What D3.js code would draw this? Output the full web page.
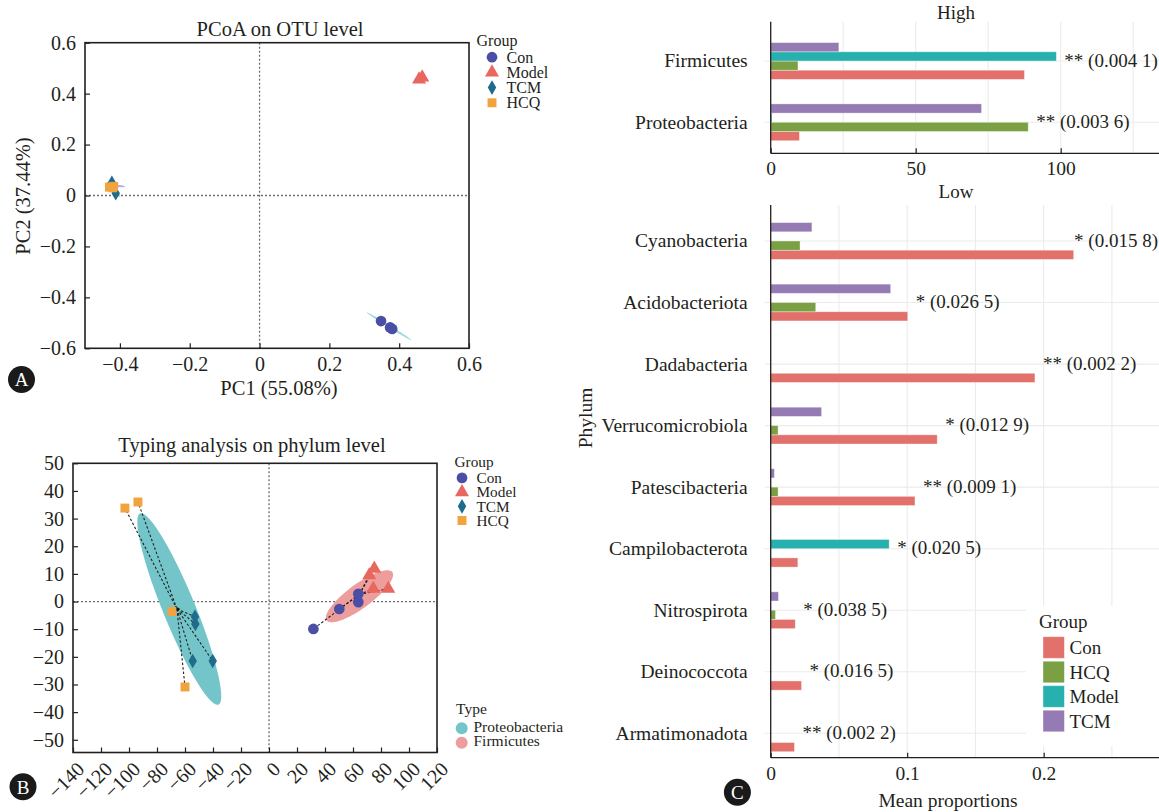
<!DOCTYPE html>
<html>
<head>
<meta charset="utf-8">
<script src="https://cdn.jsdelivr.net/npm/d3@7"></script>
<style>
  body { margin: 0; background: #fff; }
  svg { display: block; font-family: "Liberation Serif", "DejaVu Serif", serif; }
</style>
</head>
<body>
<svg id="chart" width="1159" height="812"></svg>
<script>

var groups = ["Con", "Model", "TCM", "HCQ"];

// A - PCoA on OTU level
var pcoaCon = [[0.348, -0.493], [0.374, -0.518], [0.380, -0.524]];
var pcoaModel = [[0.457, 0.456], [0.466, 0.464]];
var pcoaTCM = [[-0.423, 0.050], [-0.412, 0.009]];
var pcoaHCQ = [[-0.430, 0.033], [-0.418, 0.036], [-0.421, 0.030]];
var pcoaEllipses = [
  {center: [0.371, -0.5135], major: [0.064, -0.0545], minor: [-0.0018, -0.004]},
  {center: [-0.413, 0.038], major: [0.028, -0.003], minor: [0, 0.005]},
  {center: [-0.4175, 0.0245], major: [0.0185, -0.0295], minor: [0.0032, 0.0019]}
];
var pcoaXTicks = [-0.4, -0.2, 0, 0.2, 0.4, 0.6];
var pcoaYTicks = [-0.6, -0.4, -0.2, 0, 0.2, 0.4, 0.6];

// B - typing analysis on phylum level
var typCon = [[31.7, -9.9], [50.2, -2.7], [63.8, 2.8], [63.8, -0.2]];
var typModel = [[75.2, 11.9], [71.6, 9.5], [74.5, 4.6], [85.2, 4.6]];
var typTCM = [[-52.9, -5.5], [-52.6, -8.1], [-54.5, -21.5], [-40.2, -21.5]];
var typHCQ = [[-102.9, 33.8], [-93.6, 36], [-69.3, -3.6], [-60, -30.9]];
var typeNames = ["Proteobacteria", "Firmicutes"];
var typeMembers = [["TCM", "HCQ"], ["Con", "Model"]];
var typeEllipses = [
  {center: [-64.1, -2.7], major: [-28, 34.6], minor: [10.7, 2.25]},
  {center: [64.6, 1.9], major: [23.5, 8.75], minor: [5.1, -3.5]}
];
var typXTicks = [-140, -120, -100, -80, -60, -40, -20, 0, 20, 40, 60, 80, 100, 120];
var typYTicks = [-50, -40, -30, -20, -10, 0, 10, 20, 30, 40, 50];

// C - mean proportions
var highPhyla = ["Firmicutes", "Proteobacteria"];
var highCon = [87.5, 9.9];
var highHCQ = [9.4, 88.8];
var highModel = [98.5, 0.4];
var highTCM = [23.5, 72.7];
var highLabels = ["** (0.004 1)", "** (0.003 6)"];
var highTicks = [0, 50, 100];
var highGrid = [25, 50, 75, 100, 125];

var lowPhyla = ["Cyanobacteria", "Acidobacteriota", "Dadabacteria", "Verrucomicrobiola",
  "Patescibacteria", "Campilobacterota", "Nitrospirota", "Deinococcota", "Armatimonadota"];
var lowCon = [0.222, 0.1004, 0.1936, 0.122, 0.1057, 0.0199, 0.018, 0.0226, 0.0174];
var lowHCQ = [0.0215, 0.033, 0, 0.0054, 0.0054, 0, 0.0035, 0, 0];
var lowModel = [0, 0, 0, 0, 0, 0.0868, 0, 0, 0];
var lowTCM = [0.0302, 0.0879, 0, 0.0373, 0.0027, 0, 0.0057, 0, 0];
var lowLabels = ["* (0.015 8)", "* (0.026 5)", "** (0.002 2)", "* (0.012 9)",
  "** (0.009 1)", "* (0.020 5)", "* (0.038 5)", "* (0.016 5)", "** (0.002 2)"];
var lowTicks = [0, 0.1, 0.2];
var lowGrid = [0.05, 0.1, 0.15, 0.2, 0.25];

var barGroups = ["Con", "HCQ", "Model", "TCM"];


var svg = d3.select("#chart");
var ink = "#231f20";

var symbolType = {Con: d3.symbolCircle, Model: d3.symbolTriangle, TCM: d3.symbolDiamond, HCQ: d3.symbolSquare};
var symbolSize = {Con: 90, Model: 85, TCM: 62, HCQ: 80};
var pointColor = d3.scaleOrdinal().domain(groups).range(["#4a4fa5", "#e8675f", "#1f6b8c", "#f0a33f"]);
var barColor = d3.scaleOrdinal().domain(barGroups).range(["#e2716c", "#7ba043", "#26b0ae", "#957bb3"]);

function fmt1(d) {
  return d === 0 ? "0" : d3.format(".1f")(d);
}

function ellipsePath(e, x, y) {
  var pts = d3.range(73).map(function(i) {
    var t = i / 72 * 2 * Math.PI;
    return [x(e.center[0] + Math.cos(t) * e.major[0] + Math.sin(t) * e.minor[0]),
            y(e.center[1] + Math.cos(t) * e.major[1] + Math.sin(t) * e.minor[1])];
  });
  return d3.line()(pts) + "Z";
}

function styleAxis(sel, size) {
  sel.attr("font-family", null).attr("font-size", size).style("color", ink);
  sel.select(".domain").remove();
  sel.selectAll(".tick line").attr("stroke-width", 1.2);
}

function panelTag(x, y, letter) {
  svg.append("circle").attr("cx", x).attr("cy", y).attr("r", 13.5).attr("fill", "#1a1a1a");
  svg.append("text").attr("x", x).attr("y", y).attr("dy", "0.36em")
    .attr("text-anchor", "middle").attr("font-size", 19).attr("fill", "#fff").text(letter);
}

function scatter(cfg) {
  var box = cfg.box;
  var x = d3.scaleLinear().domain(cfg.xDomain).range([box.left, box.right]);
  var y = d3.scaleLinear().domain(cfg.yDomain).range([box.bottom, box.top]);
  var g = svg.append("g");

  g.append("line")
    .attr("x1", x(0)).attr("x2", x(0)).attr("y1", box.top).attr("y2", box.bottom)
    .attr("stroke", "#6d6d6d").attr("stroke-width", 1.3).attr("stroke-dasharray", "2,2");
  g.append("line")
    .attr("x1", box.left).attr("x2", box.right).attr("y1", y(0)).attr("y2", y(0))
    .attr("stroke", "#6d6d6d").attr("stroke-width", 1.3).attr("stroke-dasharray", "2,2");

  g.selectAll("path.ell")
    .data(cfg.ellipses)
    .enter()
    .append("path")
    .attr("class", "ell")
    .attr("d", function(e) { return ellipsePath(e, x, y); })
    .attr("fill", function(e, i) { return cfg.ellipseColors[i]; });

  if (cfg.spokes) {
    cfg.spokes.forEach(function(members) {
      var pts = [];
      members.forEach(function(m) { pts = pts.concat(cfg.points[m]); });
      var cx = d3.mean(pts, function(p) { return p[0]; });
      var cy = d3.mean(pts, function(p) { return p[1]; });
      g.selectAll(null)
        .data(pts)
        .enter()
        .append("line")
        .attr("x1", x(cx)).attr("y1", y(cy))
        .attr("x2", function(p) { return x(p[0]); })
        .attr("y2", function(p) { return y(p[1]); })
        .attr("stroke", "#222").attr("stroke-width", 1.1).attr("stroke-dasharray", "2.5,2");
      g.append("path")
        .attr("transform", "translate(" + x(cx) + "," + y(cy) + ") rotate(90)")
        .attr("d", d3.symbol().type(d3.symbolTriangle).size(14))
        .attr("fill", "#111");
    });
  }

  groups.forEach(function(name) {
    g.selectAll(null)
      .data(cfg.points[name])
      .enter()
      .append("path")
      .attr("transform", function(d) { return "translate(" + x(d[0]) + "," + y(d[1]) + ")"; })
      .attr("d", d3.symbol().type(symbolType[name]).size(symbolSize[name]))
      .attr("fill", pointColor(name));
  });

  g.append("rect")
    .attr("x", box.left).attr("y", box.top)
    .attr("width", box.right - box.left).attr("height", box.bottom - box.top)
    .attr("fill", "none").attr("stroke", ink).attr("stroke-width", 1.6);

  var xa = g.append("g")
    .attr("transform", "translate(0," + box.bottom + ")")
    .call(d3.axisBottom(x).tickValues(cfg.xTicks).tickFormat(cfg.fmt).tickSize(-5).tickPadding(9));
  styleAxis(xa, 20);
  if (cfg.rotateX) {
    xa.selectAll(".tick text")
      .attr("x", 0).attr("y", 0).attr("dy", "0.35em")
      .attr("transform", "translate(7,13) rotate(-45)")
      .attr("text-anchor", "end");
  }

  var ya = g.append("g")
    .attr("transform", "translate(" + box.left + ",0)")
    .call(d3.axisLeft(y).tickValues(cfg.yTicks).tickFormat(cfg.fmt).tickSize(-5).tickPadding(9));
  styleAxis(ya, 20);

  g.append("text")
    .attr("x", cfg.titleX).attr("y", cfg.titleY).attr("dy", "0.35em")
    .attr("text-anchor", "middle").attr("font-size", 20.5).attr("fill", ink)
    .text(cfg.title);

  // group legend
  var leg = g.append("g").attr("transform", "translate(" + cfg.legend[0] + "," + cfg.legend[1] + ")");
  leg.append("text").attr("x", 0).attr("y", 0).attr("dy", "0.35em")
    .attr("font-size", cfg.legendFont).attr("fill", ink).text("Group");
  groups.forEach(function(name, i) {
    var yy = cfg.legendStep * (i + 1) + 2;
    leg.append("path")
      .attr("transform", "translate(" + cfg.legendSym + "," + yy + ")")
      .attr("d", d3.symbol().type(symbolType[name]).size(symbolSize[name]))
      .attr("fill", pointColor(name));
    leg.append("text").attr("x", cfg.legendText).attr("y", yy).attr("dy", "0.35em")
      .attr("font-size", cfg.legendFont).attr("fill", ink).text(name);
  });

  return {g: g, x: x, y: y};
}

// ---- A ----
var panelA = scatter({
  box: {left: 85, right: 469, top: 42.7, bottom: 348.3},
  xDomain: [-0.5, 0.6],
  yDomain: [-0.6, 0.6],
  xTicks: pcoaXTicks,
  yTicks: pcoaYTicks,
  fmt: fmt1,
  ellipses: pcoaEllipses,
  ellipseColors: ["#9fd8da", "#b4b1e2", "#8fd0a8"],
  points: {Con: pcoaCon, Model: pcoaModel, TCM: pcoaTCM, HCQ: pcoaHCQ},
  title: "PCoA on OTU level",
  titleX: 280, titleY: 28.5,
  legend: [476.5, 40], legendStep: 15.2, legendSym: 15.5, legendText: 30, legendFont: 16
});
panelA.g.append("text")
  .attr("x", 279).attr("y", 388).attr("dy", "0.35em")
  .attr("text-anchor", "middle").attr("font-size", 20.5).attr("fill", ink)
  .text("PC1 (55.08%)");
panelA.g.append("text")
  .attr("transform", "translate(23,196) rotate(-90)").attr("dy", "0.35em")
  .attr("text-anchor", "middle").attr("font-size", 20.5).attr("fill", ink)
  .text("PC2 (37.44%)");
panelTag(21.5, 379.5, "A");

// ---- B ----
var panelB = scatter({
  box: {left: 73, right: 437, top: 463.3, bottom: 752.5},
  xDomain: [-140, 120],
  yDomain: [-54.6, 50],
  xTicks: typXTicks,
  yTicks: typYTicks,
  fmt: d3.format("d"),
  rotateX: true,
  ellipses: typeEllipses,
  ellipseColors: ["#74c5c9", "#ee9d9d"],
  spokes: typeMembers,
  points: {Con: typCon, Model: typModel, TCM: typTCM, HCQ: typHCQ},
  title: "Typing analysis on phylum level",
  titleX: 252, titleY: 445,
  legend: [454.5, 461.7], legendStep: 14.2, legendSym: 7.5, legendText: 22, legendFont: 15.3
});
var legT = panelB.g.append("g").attr("transform", "translate(456,708.3)");
legT.append("text").attr("dy", "0.35em").attr("font-size", 15.5).attr("fill", ink).text("Type");
typeNames.forEach(function(name, i) {
  legT.append("circle").attr("cx", 5.7).attr("cy", 20 + i * 14.4).attr("r", 6)
    .attr("fill", i === 0 ? "#74c5c9" : "#ee9d9d");
  legT.append("text").attr("x", 17.5).attr("y", 18 + i * 14).attr("dy", "0.35em")
    .attr("font-size", 15.5).attr("fill", ink).text(name);
});
panelTag(23, 786.7, "B");

// ---- C ----
var cLeft = 770.7, cRight = 1159;
var subBand = d3.scaleBand().domain(["TCM", "Model", "HCQ", "Con"]).range([-18.4, 18.4]);

function barPanel(cfg) {
  var x = d3.scaleLinear().domain(cfg.xDomain).range([cLeft, cRight]);
  var y = d3.scalePoint().domain(cfg.phyla).range(cfg.yRange);
  var g = svg.append("g");

  g.selectAll("line.vgrid")
    .data([0].concat(cfg.grid))
    .enter()
    .append("line")
    .attr("x1", function(d) { return x(d); }).attr("x2", function(d) { return x(d); })
    .attr("y1", cfg.top).attr("y2", cfg.bottom)
    .attr("stroke", "#ebebeb").attr("stroke-width", 1.1);
  g.selectAll("line.hgrid")
    .data(cfg.phyla)
    .enter()
    .append("line")
    .attr("x1", cLeft - 6).attr("x2", cRight)
    .attr("y1", function(d) { return y(d); }).attr("y2", function(d) { return y(d); })
    .attr("stroke", "#ebebeb").attr("stroke-width", 1.1);

  if (cfg.legendBox) {
    g.append("rect")
      .attr("x", cfg.legendBox[0]).attr("y", cfg.legendBox[1])
      .attr("width", cRight - cfg.legendBox[0]).attr("height", cfg.legendBox[2])
      .attr("fill", "#fff");
  }

  barGroups.forEach(function(name) {
    var vals = cfg.series[name];
    g.selectAll(null)
      .data(cfg.phyla.filter(function(p, i) { return vals[i] > 0; }))
      .enter()
      .append("rect")
      .attr("x", x(0))
      .attr("y", function(p) { return y(p) + subBand(name); })
      .attr("width", function(p) { return x(vals[cfg.phyla.indexOf(p)]) - x(0); })
      .attr("height", subBand.bandwidth())
      .attr("fill", barColor(name))
      .attr("stroke", "#fff").attr("stroke-opacity", 0.45).attr("stroke-width", 0.8);
  });

  g.selectAll("text.sig")
    .data(cfg.phyla)
    .enter()
    .append("text")
    .attr("x", function(p, i) {
      var m = d3.max(barGroups, function(n) { return cfg.series[n][i]; });
      return x(m) + 8;
    })
    .attr("y", function(p) { return y(p); })
    .attr("dy", "0.3em")
    .attr("font-size", 19).attr("fill", ink)
    .text(function(p, i) { return cfg.labels[i]; })
    .each(function() {
      // keep the label inside the panel
      var t = d3.select(this);
      var w = this.getComputedTextLength();
      var x0 = +t.attr("x");
      if (x0 + w > cRight - 1) t.attr("x", cRight - 1 - w);
    });

  g.selectAll("text.cat")
    .data(cfg.phyla)
    .enter()
    .append("text")
    .attr("x", cLeft - 23)
    .attr("y", function(p) { return y(p); })
    .attr("dy", "0.33em")
    .attr("text-anchor", "end")
    .attr("font-size", 19.5).attr("fill", ink)
    .text(function(p) { return p; });

  g.append("line").attr("x1", cLeft).attr("x2", cLeft).attr("y1", cfg.top).attr("y2", cfg.bottom)
    .attr("stroke", ink).attr("stroke-width", 1.3);
  g.append("line").attr("x1", cLeft).attr("x2", cRight).attr("y1", cfg.bottom).attr("y2", cfg.bottom)
    .attr("stroke", ink).attr("stroke-width", 1.3);

  var xa = g.append("g")
    .attr("transform", "translate(0," + cfg.bottom + ")")
    .call(d3.axisBottom(x).tickValues(cfg.ticks).tickFormat(cfg.fmt).tickSize(-5).tickPadding(8));
  styleAxis(xa, 19.5);

  g.append("text")
    .attr("x", 956).attr("y", cfg.titleY).attr("dy", "0.35em")
    .attr("text-anchor", "middle").attr("font-size", 19).attr("fill", ink)
    .text(cfg.title);
  return g;
}

barPanel({
  phyla: highPhyla,
  series: {Con: highCon, HCQ: highHCQ, Model: highModel, TCM: highTCM},
  labels: highLabels,
  xDomain: [0, 133.9],
  yRange: [61, 122.3],
  top: 21.7, bottom: 153.3,
  grid: highGrid, ticks: highTicks,
  fmt: d3.format("d"),
  title: "High", titleY: 12.5
});

barPanel({
  phyla: lowPhyla,
  series: {Con: lowCon, HCQ: lowHCQ, Model: lowModel, TCM: lowTCM},
  labels: lowLabels,
  xDomain: [0, 0.2845],
  yRange: [241, 733.3],
  top: 205, bottom: 757.7,
  grid: lowGrid, ticks: lowTicks,
  fmt: fmt1,
  legendBox: [1026, 606, 140],
  title: "Low", titleY: 191.5
});

var legC = svg.append("g").attr("transform", "translate(1039,621.7)");
legC.append("text").attr("dy", "0.35em").attr("font-size", 19).attr("fill", ink).text("Group");
barGroups.forEach(function(name, i) {
  legC.append("rect")
    .attr("x", 4).attr("y", 15 + i * 24.5)
    .attr("width", 21.4).attr("height", 21.6)
    .attr("fill", barColor(name))
    .attr("stroke", "#fff").attr("stroke-opacity", 0.5).attr("stroke-width", 0.8);
  legC.append("text")
    .attr("x", 30.5).attr("y", 15 + i * 24.5 + 10.8).attr("dy", "0.35em")
    .attr("font-size", 19).attr("fill", ink).text(name);
});

svg.append("text")
  .attr("transform", "translate(585,418) rotate(-90)").attr("dy", "0.35em")
  .attr("text-anchor", "middle").attr("font-size", 19.5).attr("fill", ink)
  .text("Phylum");
svg.append("text")
  .attr("x", 948).attr("y", 800).attr("dy", "0.35em")
  .attr("text-anchor", "middle").attr("font-size", 19.5).attr("fill", ink)
  .text("Mean proportions");
panelTag(737.4, 792.3, "C");

</script>
</body>
</html>
